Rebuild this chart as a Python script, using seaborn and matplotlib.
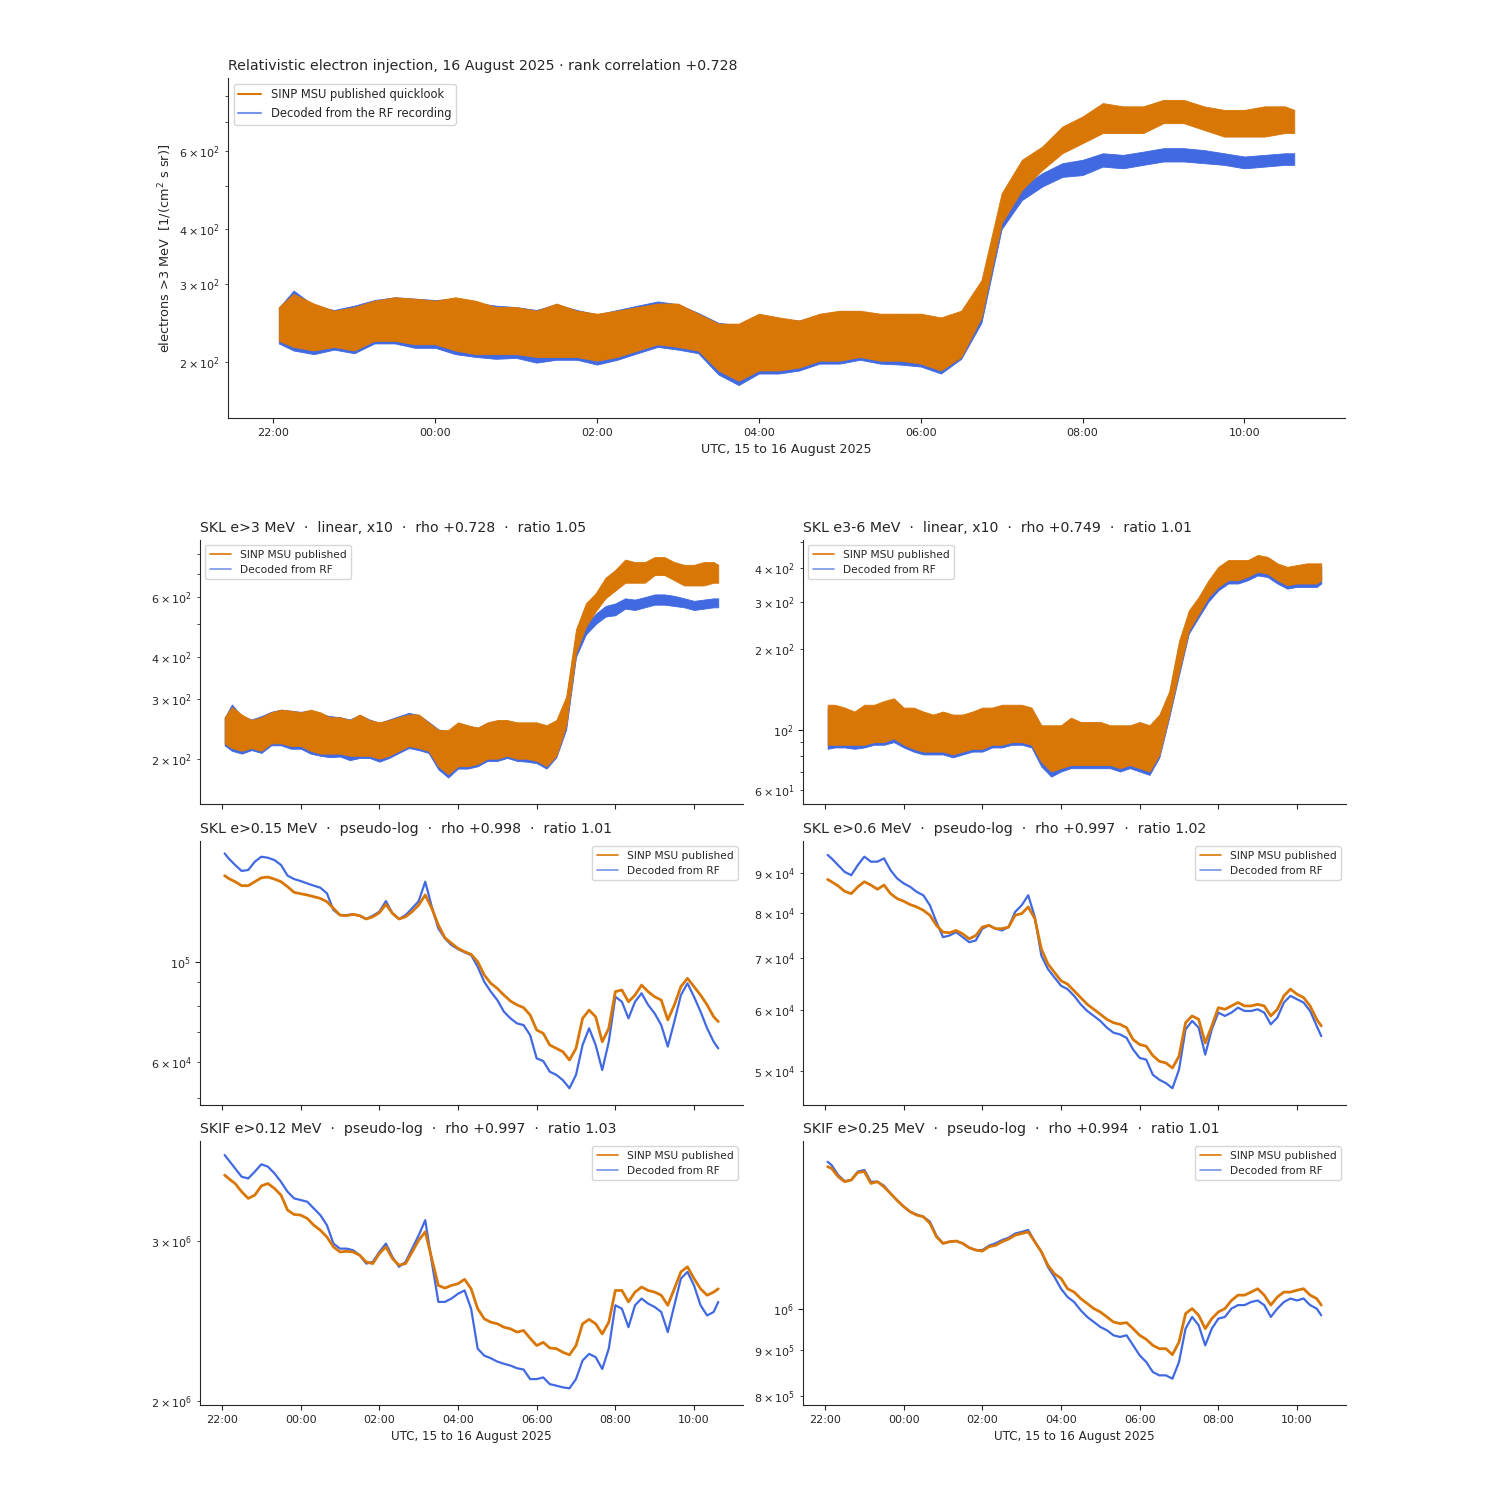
import numpy as np
import pandas as pd
import matplotlib
matplotlib.use("Agg")
import matplotlib.pyplot as plt
import matplotlib.dates as mdates
from matplotlib.lines import Line2D
import seaborn as sns

# ---------------------------------------------------------------- data
BASE = pd.Timestamp("2025-08-15 22:00")
ORANGE = "#d97706"
BLUE = "#4169e1"

# sample times, minutes after 22:00 UTC on 15 August 2025
t15 = [4, 15, 30, 45, 60, 75, 90, 105, 120, 135, 150, 165, 180, 195, 210, 225,
       240, 255, 270, 285, 300, 315, 330, 345, 360, 375, 390, 405, 420, 435,
       450, 465, 480, 495, 510, 525, 540, 555, 570, 585, 600, 615, 630, 645,
       660, 675, 690, 705, 720, 735, 750, 757]
t10 = [4, 10, 20, 30, 40, 50, 60, 70, 80, 90, 100, 110, 120, 130, 140, 150,
       160, 170, 180, 190, 200, 210, 220, 230, 240, 250, 260, 270, 280, 290,
       300, 310, 320, 330, 340, 350, 360, 370, 380, 390, 400, 410, 420, 430,
       440, 450, 460, 470, 480, 490, 500, 510, 520, 530, 540, 550, 560, 570,
       580, 590, 600, 610, 620, 630, 640, 650, 660, 670, 680, 690, 700, 710,
       720, 730, 740, 750, 757]

# SKL e>3 MeV (noisy: upper / lower envelope of the trace)
e3_pub_hi = [266, 285, 271, 261, 266, 275, 280, 278, 275, 280, 275, 266, 266, 261, 271, 261,
             257, 261, 266, 271, 271, 257, 244, 244, 257, 252, 248, 257, 261, 261, 257, 257,
             257, 252, 261, 306, 482, 574, 615, 683, 720, 772, 759, 759, 785, 785, 759, 745,
             745, 759, 759, 745]
e3_pub_lo = [223, 216, 212, 216, 212, 223, 223, 219, 219, 212, 208, 208, 208, 205, 205, 205,
             201, 205, 212, 219, 216, 212, 191, 181, 191, 191, 194, 201, 201, 205, 201, 201,
             198, 191, 205, 252, 412, 490, 544, 594, 626, 660, 660, 660, 695, 695, 671, 648,
             648, 648, 660, 660]
e3_rf_hi = [265, 290, 268, 262, 268, 276, 280, 278, 276, 278, 272, 268, 266, 262, 270, 262,
            256, 262, 268, 274, 270, 258, 245, 242, 255, 250, 248, 255, 260, 260, 255, 256,
            255, 250, 258, 300, 465, 499, 535, 564, 574, 594, 589, 599, 610, 610, 604, 594,
            584, 589, 594, 594]
e3_rf_lo = [220, 212, 208, 213, 209, 220, 220, 215, 215, 208, 205, 203, 204, 199, 202, 202,
            197, 202, 209, 216, 213, 209, 187, 177, 188, 188, 191, 198, 198, 202, 198, 197,
            195, 188, 203, 245, 400, 465, 499, 525, 530, 554, 549, 559, 569, 569, 564, 559,
            549, 554, 559, 559]

# SKL e3-6 MeV (noisy)
e36_pub_hi = [124, 124, 121, 117, 124, 124, 128, 131, 121, 121, 117, 114, 117, 114, 114, 117,
              121, 121, 124, 124, 124, 121, 104, 104, 104, 111, 107, 107, 107, 104, 104, 104,
              107, 104, 114, 139, 214, 278, 312, 360, 404, 428, 428, 428, 447, 440, 416, 404,
              410, 416, 416, 416]
e36_pub_lo = [88, 88, 88, 88, 88, 90, 90, 93, 88, 85, 83, 83, 83, 81, 83, 85,
              85, 88, 88, 90, 90, 88, 76, 70, 72, 74, 74, 74, 74, 74, 72, 74,
              72, 70, 81, 114, 165, 234, 270, 312, 340, 360, 360, 371, 387, 381, 360, 345,
              350, 350, 350, 360]
e36_rf_hi = [120, 122, 119, 116, 121, 122, 126, 128, 119, 119, 116, 112, 115, 112, 112, 115,
             119, 119, 122, 122, 123, 119, 102, 102, 102, 108, 105, 105, 105, 102, 102, 102,
             105, 102, 112, 136, 208, 272, 305, 350, 392, 415, 415, 415, 433, 428, 405, 392,
             398, 404, 404, 404]
e36_rf_lo = [85, 86, 86, 85, 86, 88, 88, 90, 86, 83, 81, 81, 81, 79, 81, 83,
             83, 86, 86, 88, 88, 86, 73, 67, 70, 72, 72, 72, 72, 72, 70, 72,
             70, 68, 79, 111, 160, 228, 262, 300, 330, 350, 350, 360, 375, 370, 350, 335,
             340, 340, 340, 350]

# SKL e>0.15 MeV
e015_pub = [154800, 152600, 150100, 147100, 147100, 150100, 153100, 153700, 152100, 150100,
            146300, 142200, 141200, 140300, 139100, 137900, 135600, 131100, 126700, 126300,
            127200, 126300, 124200, 125600, 128200, 133800, 127800, 124200, 125600, 128900,
            133300, 140300, 131100, 120500, 112900, 109800, 107000, 105200, 103800, 100000,
            93500, 89600, 87300, 84400, 81900, 80300, 79200, 76300, 70700, 69500,
            65500, 64400, 63300, 60700, 64400, 75000, 78200, 75600, 66600, 71300,
            85900, 86600, 81600, 84400, 88800, 85900, 83700, 82300, 74400, 80300,
            88100, 91900, 88100, 84400, 80300, 75600, 73800]
e015_rf = [173300, 169000, 163400, 158500, 159300, 166100, 170400, 169500, 167500, 163400,
           154800, 152100, 150600, 148800, 147100, 145600, 141500, 130000, 126700, 126700,
           127200, 126300, 124200, 126300, 128900, 136000, 127800, 124200, 126700, 131100,
           136000, 150100, 132200, 118400, 112600, 108800, 106600, 104900, 103400, 97500,
           90300, 85900, 82300, 77600, 75000, 73100, 72500, 68900, 61200, 60400,
           57200, 56300, 54800, 52600, 56300, 65500, 71300, 65500, 57700, 66600,
           83700, 81600, 75000, 81600, 85200, 80300, 76900, 72500, 65000, 73800,
           84400, 89600, 83700, 77600, 71300, 66600, 64400]

# SKL e>0.6 MeV
e06_pub = [88240, 87630, 86570, 85190, 84600, 86310, 87630, 86770, 85710, 86770,
           84600, 83380, 82720, 81900, 81330, 80530, 79360, 77020, 75500, 75350,
           75870, 75120, 74010, 74740, 76630, 77020, 76260, 76260, 76630, 79360,
           79750, 81330, 78570, 71840, 68710, 67010, 65370, 64730, 63450, 62200,
           60970, 60080, 59200, 58320, 57740, 57460, 56900, 54930, 54130, 53860,
           52390, 51510, 51260, 50500, 52290, 57740, 58910, 58320, 54380, 57190,
           60370, 60080, 60680, 61290, 60680, 60680, 60970, 60680, 58910, 60080,
           62510, 63770, 62820, 62200, 60680, 58320, 57190]
e06_rf = [94870, 93900, 92040, 90230, 89340, 92040, 94390, 93000, 93000, 93900,
          90680, 88490, 87210, 86310, 85020, 84190, 81730, 77800, 74380, 74740,
          75500, 74380, 73280, 73650, 76260, 77020, 76260, 75870, 76630, 80140,
          81730, 84190, 78970, 70440, 67690, 66020, 64410, 63770, 62510, 60970,
          59780, 58910, 58040, 56900, 56060, 55770, 55210, 53330, 52020, 51760,
          49500, 48770, 48280, 47560, 50250, 56620, 58040, 56900, 52530, 56620,
          59490, 58910, 59490, 60370, 59780, 59780, 60080, 59490, 57460, 58620,
          61290, 62510, 61890, 61290, 59780, 57190, 55490]

# SKIF e>0.12 MeV
skif012_pub = [3.549e6, 3.519e6, 3.474e6, 3.402e6, 3.345e6, 3.373e6, 3.453e6, 3.474e6, 3.431e6, 3.373e6,
               3.247e6, 3.211e6, 3.206e6, 3.179e6, 3.125e6, 3.085e6, 3.032e6, 2.957e6, 2.919e6, 2.924e6,
               2.919e6, 2.895e6, 2.846e6, 2.834e6, 2.907e6, 2.957e6, 2.870e6, 2.823e6, 2.834e6, 2.919e6,
               3.007e6, 3.072e6, 2.870e6, 2.681e6, 2.663e6, 2.681e6, 2.693e6, 2.723e6, 2.658e6, 2.527e6,
               2.463e6, 2.442e6, 2.432e6, 2.411e6, 2.401e6, 2.381e6, 2.391e6, 2.344e6, 2.301e6, 2.320e6,
               2.287e6, 2.283e6, 2.262e6, 2.247e6, 2.301e6, 2.432e6, 2.459e6, 2.432e6, 2.370e6, 2.442e6,
               2.647e6, 2.647e6, 2.571e6, 2.636e6, 2.670e6, 2.647e6, 2.636e6, 2.615e6, 2.549e6, 2.658e6,
               2.775e6, 2.811e6, 2.728e6, 2.658e6, 2.615e6, 2.636e6, 2.658e6]
skif012_rf = [3.735e6, 3.688e6, 3.610e6, 3.534e6, 3.519e6, 3.580e6, 3.648e6, 3.626e6, 3.565e6, 3.489e6,
              3.402e6, 3.345e6, 3.331e6, 3.317e6, 3.261e6, 3.206e6, 3.125e6, 2.982e6, 2.944e6, 2.944e6,
              2.932e6, 2.895e6, 2.834e6, 2.846e6, 2.919e6, 2.982e6, 2.882e6, 2.811e6, 2.846e6, 2.944e6,
              3.045e6, 3.165e6, 2.846e6, 2.571e6, 2.571e6, 2.593e6, 2.625e6, 2.647e6, 2.527e6, 2.283e6,
              2.243e6, 2.228e6, 2.209e6, 2.197e6, 2.187e6, 2.172e6, 2.165e6, 2.113e6, 2.113e6, 2.122e6,
              2.086e6, 2.078e6, 2.069e6, 2.064e6, 2.113e6, 2.215e6, 2.253e6, 2.234e6, 2.168e6, 2.283e6,
              2.549e6, 2.527e6, 2.411e6, 2.549e6, 2.593e6, 2.560e6, 2.538e6, 2.506e6, 2.381e6, 2.549e6,
              2.728e6, 2.775e6, 2.681e6, 2.549e6, 2.484e6, 2.506e6, 2.571e6]

# SKIF e>0.25 MeV
skif025_pub = [1.436e6, 1.430e6, 1.400e6, 1.382e6, 1.388e6, 1.415e6, 1.418e6, 1.376e6, 1.382e6, 1.364e6,
               1.341e6, 1.318e6, 1.297e6, 1.280e6, 1.269e6, 1.264e6, 1.243e6, 1.201e6, 1.181e6, 1.186e6,
               1.188e6, 1.181e6, 1.168e6, 1.161e6, 1.158e6, 1.171e6, 1.175e6, 1.186e6, 1.194e6, 1.206e6,
               1.211e6, 1.216e6, 1.186e6, 1.156e6, 1.117e6, 1.093e6, 1.080e6, 1.052e6, 1.043e6, 1.026e6,
               1.013e6, 1.000e6, 0.9915e6, 0.9790e6, 0.9665e6, 0.9625e6, 0.9649e6, 0.9502e6, 0.9342e6, 0.9247e6,
               0.9106e6, 0.9029e6, 0.9029e6, 0.8891e6, 0.9184e6, 0.9874e6, 1.000e6, 0.9831e6, 0.9502e6, 0.9748e6,
               0.9915e6, 1.000e6, 1.021e6, 1.035e6, 1.035e6, 1.043e6, 1.052e6, 1.035e6, 1.009e6, 1.030e6,
               1.043e6, 1.043e6, 1.048e6, 1.052e6, 1.035e6, 1.026e6, 1.009e6]
skif025_rf = [1.454e6, 1.442e6, 1.406e6, 1.384e6, 1.388e6, 1.418e6, 1.424e6, 1.382e6, 1.382e6, 1.368e6,
              1.341e6, 1.318e6, 1.297e6, 1.280e6, 1.271e6, 1.264e6, 1.248e6, 1.204e6, 1.181e6, 1.186e6,
              1.188e6, 1.181e6, 1.168e6, 1.161e6, 1.161e6, 1.174e6, 1.181e6, 1.191e6, 1.198e6, 1.211e6,
              1.216e6, 1.222e6, 1.186e6, 1.156e6, 1.112e6, 1.084e6, 1.052e6, 1.030e6, 1.017e6, 0.9958e6,
              0.9790e6, 0.9665e6, 0.9543e6, 0.9462e6, 0.9342e6, 0.9302e6, 0.9342e6, 0.9106e6, 0.8876e6, 0.8727e6,
              0.8508e6, 0.8435e6, 0.8435e6, 0.8364e6, 0.8727e6, 0.9502e6, 0.9790e6, 0.9583e6, 0.9106e6, 0.9502e6,
              0.9748e6, 0.9790e6, 1.000e6, 1.009e6, 1.009e6, 1.017e6, 1.021e6, 1.009e6, 0.9790e6, 1.000e6,
              1.017e6, 1.026e6, 1.021e6, 1.026e6, 1.009e6, 1.000e6, 0.9831e6]

panel_titles = [
    "SKL e>3 MeV  \u00b7  linear, x10  \u00b7  rho +0.728  \u00b7  ratio 1.05",
    "SKL e3-6 MeV  \u00b7  linear, x10  \u00b7  rho +0.749  \u00b7  ratio 1.01",
    "SKL e>0.15 MeV  \u00b7  pseudo-log  \u00b7  rho +0.998  \u00b7  ratio 1.01",
    "SKL e>0.6 MeV  \u00b7  pseudo-log  \u00b7  rho +0.997  \u00b7  ratio 1.02",
    "SKIF e>0.12 MeV  \u00b7  pseudo-log  \u00b7  rho +0.997  \u00b7  ratio 1.03",
    "SKIF e>0.25 MeV  \u00b7  pseudo-log  \u00b7  rho +0.994  \u00b7  ratio 1.01",
]

# ---------------------------------------------------------------- style
sns.set_style("ticks")
plt.rcParams["font.family"] = ["DejaVu Sans"]
plt.rcParams["xtick.labelsize"] = 8
plt.rcParams["ytick.labelsize"] = 8

fig = plt.figure(figsize=(15, 15), dpi=100)


def to_time(minutes):
    return BASE + pd.to_timedelta(np.asarray(minutes), unit="min")


def band(ax, t, hi, lo, color, z):
    df = pd.DataFrame({"time": np.concatenate([to_time(t), to_time(t)]),
                       "flux": np.concatenate([hi, lo])})
    sns.lineplot(data=df, x="time", y="flux", ax=ax, color=color, lw=0,
                 estimator="mean", errorbar=("pi", 100),
                 err_kws={"alpha": 1.0, "linewidth": 0.6, "edgecolor": color,
                          "zorder": z})


def line(ax, t, v, color, lw, z):
    sns.lineplot(x=to_time(t), y=np.asarray(v), ax=ax, color=color, lw=lw,
                 zorder=z)


def fmt_time(ax, labels=True):
    ax.xaxis.set_major_locator(mdates.HourLocator(byhour=range(0, 24, 2)))
    ax.xaxis.set_major_formatter(mdates.DateFormatter("%H:%M"))
    if not labels:
        ax.tick_params(axis="x", labelbottom=False)


def legend(ax, labels, loc, fs, lw):
    h = [Line2D([], [], color=ORANGE, lw=lw),
         Line2D([], [], color=BLUE, lw=lw, alpha=0.7)]
    ax.legend(h, labels, loc=loc, fontsize=fs, frameon=True, framealpha=0.8)


# ---------------------------------------------------------------- top panel
ax0 = fig.add_axes([0.152, 0.7213, 0.7447, 0.2267])
ax0.set_yscale("log")
band(ax0, t15, e3_rf_hi, e3_rf_lo, BLUE, 1)
band(ax0, t15, e3_pub_hi, e3_pub_lo, ORANGE, 2)
ax0.set_ylim(149, 880)
fmt_time(ax0)
ax0.set_xlabel("UTC, 15 to 16 August 2025", fontsize=9.1)
ax0.set_ylabel("electrons >3 MeV  [1/(cm$^2$ s sr)]", fontsize=9.3)
ax0.set_title("Relativistic electron injection, 16 August 2025 \u00b7 rank correlation +0.728",
              loc="left", fontsize=10.2)
legend(ax0, ["SINP MSU published quicklook", "Decoded from the RF recording"],
       "upper left", 8.3, 1.5)
sns.despine(ax=ax0)

# ---------------------------------------------------------------- grid panels
lefts = [0.1333, 0.5353]
bottoms = [0.464, 0.2633, 0.0633]
W, H = 0.362, 0.176
axes = []
for r in range(3):
    for c in range(2):
        ax = fig.add_axes([lefts[c], bottoms[r], W, H])
        ax.set_yscale("log")
        axes.append(ax)

band(axes[0], t15, e3_rf_hi, e3_rf_lo, BLUE, 1)
band(axes[0], t15, e3_pub_hi, e3_pub_lo, ORANGE, 2)
axes[0].set_ylim(148, 881)

band(axes[1], t15, e36_rf_hi, e36_rf_lo, BLUE, 1)
band(axes[1], t15, e36_pub_hi, e36_pub_lo, ORANGE, 2)
axes[1].set_ylim(53, 508)

line(axes[2], t10, e015_rf, BLUE, 1.6, 1)
line(axes[2], t10, e015_pub, ORANGE, 2.0, 2)
axes[2].set_ylim(48300, 184500)

line(axes[3], t10, e06_rf, BLUE, 1.6, 1)
line(axes[3], t10, e06_pub, ORANGE, 2.0, 2)
axes[3].set_ylim(45250, 98850)

line(axes[4], t10, skif012_rf, BLUE, 1.6, 1)
line(axes[4], t10, skif012_pub, ORANGE, 2.0, 2)
axes[4].set_ylim(1.978e6, 3.87e6)

line(axes[5], t10, skif025_rf, BLUE, 1.6, 1)
line(axes[5], t10, skif025_pub, ORANGE, 2.0, 2)
axes[5].set_ylim(0.782e6, 1.533e6)

for i, ax in enumerate(axes):
    fmt_time(ax, labels=(i >= 4))
    ax.set_ylabel("")
    if i >= 4:
        ax.set_xlabel("UTC, 15 to 16 August 2025", fontsize=8.6)
    else:
        ax.set_xlabel("")
    ax.set_title(panel_titles[i], loc="left", fontsize=10.2)
    legend(ax, ["SINP MSU published", "Decoded from RF"],
           "upper left" if i < 2 else "upper right", 7.7, 1.2)
    sns.despine(ax=ax)

# share the x range across the grid
xl = axes[0].get_xlim()
for ax in axes[1:]:
    ax.set_xlim(xl)

fig.savefig("out.png", dpi=100)
